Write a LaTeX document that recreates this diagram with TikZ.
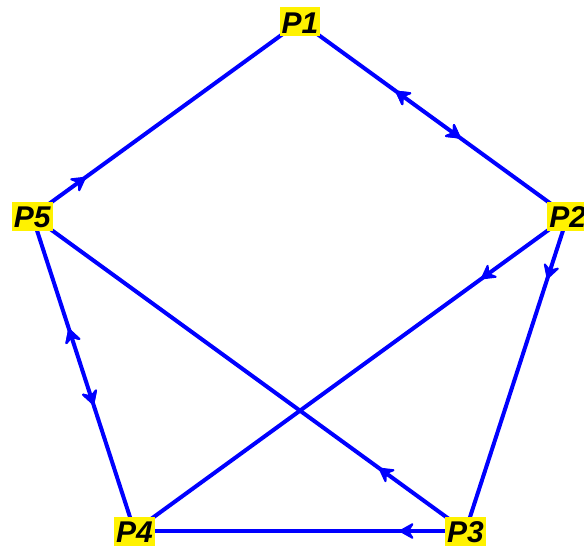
\documentclass[tikz,border=0pt]{standalone}
\usepackage{fontspec}
\setmainfont{Liberation Sans}
\usetikzlibrary{arrows.meta,decorations.markings,backgrounds}
\tikzset{
  vlabel/.style={fill=yellow, inner xsep=2pt, inner ysep=1pt, text height=25pt, text depth=2pt,
    font=\fontsize{30}{30}\selectfont\bfseries\itshape},
  edgeline/.style={color=blue, line width=4pt},
  fwd/.style={postaction={decorate},decoration={markings,mark=at position #1 with {\arrow{Stealth[length=17pt,width=19pt,inset=6pt,round,line width=2pt]}}}},
  bwd/.style={postaction={decorate},decoration={markings,mark=at position #1 with {\arrow{Stealth[length=17pt,width=19pt,inset=6pt,round,line width=2pt,reversed]}}}}
}
\begin{document}
\begin{tikzpicture}[x=1pt,y=-1pt]
\useasboundingbox (0,0) rectangle (584,547);
\node[vlabel] (P1) at (300,21.5) {P1};
\node[vlabel] (P2) at (567.7,216) {P2};
\node[vlabel] (P3) at (465.5,531) {P3};
\node[vlabel] (P4) at (134.5,531) {P4};
\node[vlabel] (P5) at (32.3,216) {P5};
\begin{scope}[on background layer]
\draw[edgeline, fwd=0.2] (P5.center) -- (P1.center);
\draw[edgeline, fwd=0.6, bwd=0.4] (P1.center) -- (P2.center);
\draw[edgeline, fwd=0.2] (P2.center) -- (P4.center);
\draw[edgeline, fwd=0.2] (P2.center) -- (P3.center);
\draw[edgeline, fwd=0.2] (P3.center) -- (P5.center);
\draw[edgeline, fwd=0.2] (P3.center) -- (P4.center);
\draw[edgeline, fwd=0.6, bwd=0.4] (P5.center) -- (P4.center);
\end{scope}
\end{tikzpicture}
\end{document}
